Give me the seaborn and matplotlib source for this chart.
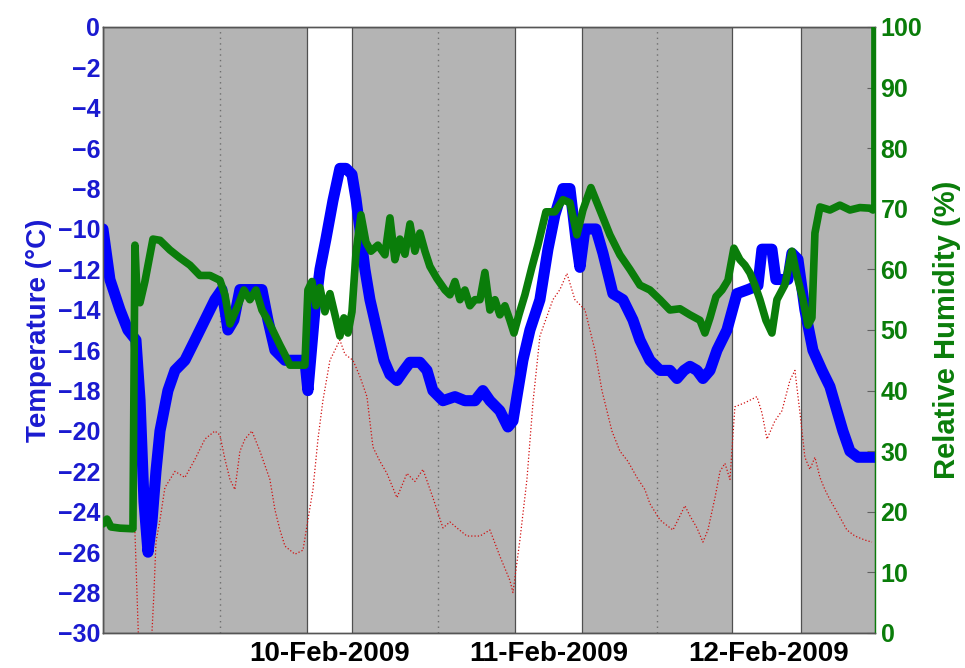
import numpy as np
import pandas as pd
import matplotlib
matplotlib.use("Agg")
import matplotlib.pyplot as plt
import seaborn as sns

sns.set_style("white")
plt.rcParams['font.family'] = ['Liberation Sans', 'DejaVu Sans']
plt.rcParams['font.weight'] = 'bold'

# hours relative to 10-Feb-2009 00:00
temp_hours = [-24.84, -24.08, -22.98, -22.11, -21.23, -20.78, -20.35, -19.91, -19.48, -19.04,
              -18.60, -17.73, -16.96, -15.87, -14.77, -13.68, -12.59, -11.82, -11.16, -10.51,
              -9.85, -8.76, -7.44, -6.79, -6.02, -4.92, -2.74, -2.41, -1.64, -1.09,
              -0.44, 0.33, 1.09, 1.75, 2.41, 2.85, 3.28, 3.83, 4.38, 5.14,
              5.91, 6.57, 7.33, 8.10, 8.76, 9.85, 10.62, 11.27, 12.37, 13.68,
              14.77, 15.87, 16.74, 17.51, 18.60, 19.48, 20.03, 20.57, 21.12, 21.89,
              22.98, 23.86, 24.62, 25.50, 26.27, 26.92, 27.36, 27.91, 29.11, 29.88,
              30.97, 32.07, 33.16, 33.93, 35.02, 36.12, 37.21, 37.98, 38.75, 39.40,
              40.17, 40.82, 41.59, 42.36, 43.45, 44.54, 45.75, 46.84, 47.28, 48.37,
              48.81, 50.12, 50.56, 51.22, 51.98, 52.86, 53.85, 54.72, 55.49, 56.14,
              56.91, 57.79, 59.65]
temperature = [-10.0, -12.5, -14.0, -15.0, -15.5, -18.5, -23.5, -26.0, -24.5, -22.0,
               -20.0, -18.0, -17.0, -16.5, -15.5, -14.5, -13.5, -13.0, -15.0, -14.5,
               -13.0, -13.0, -13.0, -14.5, -16.0, -16.5, -16.5, -18.0, -14.0, -12.0,
               -10.5, -8.6, -7.0, -7.0, -7.3, -8.5, -10.0, -12.0, -13.5, -15.0,
               -16.5, -17.2, -17.5, -17.0, -16.6, -16.6, -17.0, -18.0, -18.5, -18.3,
               -18.5, -18.5, -18.0, -18.5, -19.0, -19.8, -19.5, -18.0, -16.5, -15.0,
               -13.5, -11.0, -9.3, -8.0, -8.0, -10.5, -11.9, -10.0, -10.0, -11.2,
               -13.2, -13.5, -14.5, -15.5, -16.5, -17.0, -17.0, -17.4, -17.0, -16.8,
               -17.0, -17.4, -17.0, -16.0, -15.0, -13.2, -13.0, -12.8, -11.0, -11.0,
               -12.5, -12.5, -11.2, -11.5, -14.0, -16.0, -17.0, -17.8, -19.0, -20.0,
               -21.0, -21.3, -21.3]

rh_hours = [-24.84, -24.40, -23.97, -22.98, -21.56, -21.34, -21.12, -20.79, -20.25, -19.37,
            -18.60, -17.51, -16.42, -15.32, -14.23, -13.13, -12.04, -11.49, -10.94, -10.07,
            -9.41, -8.76, -8.10, -7.44, -6.79, -6.02, -5.47, -4.92, -4.38, -2.74,
            -2.41, -1.97, -1.53, -1.09, -0.55, 0.00, 0.55, 1.09, 1.53, 1.97,
            2.41, 2.85, 3.39, 3.94, 4.49, 5.25, 6.02, 6.57, 7.11, 7.66,
            8.21, 8.76, 9.30, 9.85, 10.40, 10.94, 11.71, 12.59, 13.13, 13.68,
            14.23, 14.77, 15.32, 15.87, 16.42, 16.96, 17.51, 18.06, 18.60, 19.15,
            19.70, 20.14, 20.68, 21.34, 22.11, 22.76, 23.64, 24.62, 25.50, 26.27,
            27.03, 27.69, 28.56, 29.55, 30.64, 31.74, 32.83, 33.93, 35.02, 36.12,
            37.21, 38.31, 39.40, 40.50, 41.04, 41.59, 42.25, 42.91, 43.56, 44.21,
            44.87, 45.42, 45.97, 46.51, 47.06, 47.72, 48.37, 48.92, 49.80, 50.56,
            51.11, 51.77, 52.31, 52.75, 53.08, 53.63, 54.72, 55.81, 56.91, 58.00,
            59.10, 59.43, 59.64, 59.65]
humidity = [18.0, 18.8, 17.5, 17.3, 17.2, 64.0, 56.0, 54.5, 58.0, 65.0,
            64.8, 63.2, 61.9, 60.7, 59.0, 59.0, 58.2, 55.8, 51.0, 54.0,
            56.6, 55.0, 56.6, 53.3, 51.6, 49.2, 47.5, 45.9, 44.2, 44.2,
            56.6, 58.0, 54.0, 57.0, 53.0, 56.0, 52.5, 49.0, 52.0, 49.5,
            53.0, 62.7, 69.0, 64.5, 63.0, 64.0, 62.4, 68.5, 61.6, 65.0,
            62.5, 67.5, 63.0, 66.0, 63.0, 60.5, 58.5, 56.6, 55.8, 58.0,
            55.0, 56.6, 54.0, 55.0, 55.0, 59.5, 53.3, 55.0, 52.5, 54.0,
            51.6, 49.5, 52.5, 55.8, 60.4, 64.0, 69.5, 69.5, 71.5, 71.0,
            65.7, 69.8, 73.5, 69.8, 65.7, 62.4, 60.0, 57.4, 56.6, 55.0,
            53.3, 53.5, 52.5, 51.6, 49.5, 52.0, 55.5, 56.6, 58.2, 63.5,
            61.6, 60.7, 59.4, 57.4, 55.0, 51.6, 49.5, 55.0, 57.5, 63.0,
            59.0, 55.0, 50.8, 52.0, 66.0, 70.3, 69.8, 70.6, 69.8, 70.2,
            70.1, 69.8, 70.0, 100.0]

red_hours = [-21.34, -21.12, -20.90, -19.59, -19.26, -19.04, -18.60, -18.06, -16.96, -15.87,
             -14.77, -13.68, -12.59, -12.04, -11.49, -10.94, -10.40, -9.85, -9.30, -8.54,
             -7.66, -6.57, -6.02, -5.47, -4.92, -3.83, -2.95, -2.41, -1.86, -1.31,
             -0.77, 0.00, 1.09, 1.64, 2.52, 3.28, 4.05, 4.71, 5.47, 6.24,
             7.33, 8.43, 9.30, 10.18, 11.27, 12.37, 13.13, 13.90, 14.99, 16.42,
             17.51, 18.60, 19.70, 20.03, 20.79, 21.56, 22.22, 22.98, 24.40, 25.17,
             25.94, 26.81, 27.91, 29.00, 29.77, 30.86, 31.74, 32.61, 33.60, 34.47,
             35.02, 35.57, 36.12, 36.66, 37.54, 38.31, 38.85, 39.40, 40.17, 40.82,
             41.37, 42.14, 42.69, 43.23, 43.78, 44.32, 45.42, 46.73, 47.28, 47.83,
             48.70, 49.47, 50.34, 50.89, 51.44, 51.98, 52.53, 53.08, 53.63, 54.17,
             54.72, 55.49, 56.58, 57.46, 58.55, 59.32]
red_temp = [-25.0, -28.0, -31.0, -31.0, -28.0, -25.5, -24.4, -22.8, -22.0, -22.3,
            -21.4, -20.4, -20.0, -20.2, -21.4, -22.4, -22.9, -21.0, -20.4, -20.0,
            -21.0, -22.4, -23.9, -24.9, -25.7, -26.1, -25.9, -24.4, -22.9, -20.4,
            -18.5, -16.5, -15.5, -16.2, -16.5, -17.3, -18.3, -20.8, -21.5, -22.1,
            -23.3, -22.1, -22.5, -21.9, -23.3, -24.8, -24.5, -24.8, -25.2, -25.2,
            -24.9, -26.2, -27.4, -28.0, -25.4, -22.4, -18.6, -15.3, -13.5, -13.0,
            -12.2, -13.5, -14.0, -16.0, -18.0, -20.0, -21.0, -21.5, -22.3, -22.9,
            -23.6, -24.0, -24.4, -24.6, -24.9, -24.2, -23.7, -24.2, -24.8, -25.5,
            -24.9, -23.3, -22.0, -21.6, -22.4, -18.8, -18.6, -18.3, -19.1, -20.4,
            -19.5, -19.0, -17.5, -17.0, -19.1, -21.3, -21.9, -21.3, -22.3, -22.9,
            -23.4, -24.0, -24.9, -25.2, -25.4, -25.5]

night_start = [-24.84, 2.41, 27.58, 51.55]
night_end = [-2.52, 20.25, 43.99, 59.65]
noon_lines = [-12.0, 11.8, 35.8]

tick_hours = [0, 24, 48]
tick_labels = ['10-Feb-2009', '11-Feb-2009', '12-Feb-2009']

BLUE = '#0000ff'
GREEN = '#0a7d0a'
LBLUE = '#1a1ad0'

fig = plt.figure(figsize=(9.65, 6.68), dpi=100)
ax = fig.add_axes([0.1067, 0.0524, 0.8, 0.9072])

for s, e in zip(night_start, night_end):
    ax.axvspan(s, e, facecolor='#b4b4b4', edgecolor='#505050', linewidth=0.9, zorder=0)
for x in noon_lines:
    ax.axvline(x, color='#6e6e6e', linestyle=(0, (1, 3)), linewidth=1.0, zorder=1)

df_t = pd.DataFrame({'hours': temp_hours, 'temp': temperature})
df_r = pd.DataFrame({'hours': red_hours, 'temp': red_temp})
df_h = pd.DataFrame({'hours': rh_hours, 'rh': humidity})

sns.lineplot(data=df_r, x='hours', y='temp', ax=ax, color='#d01010', linewidth=0.9,
             linestyle=':', estimator=None, sort=False, zorder=2)
sns.lineplot(data=df_t, x='hours', y='temp', ax=ax, color=BLUE, linewidth=8,
             estimator=None, sort=False, zorder=3)

ax.set_xlim(-24.84, 59.65)
ax.set_ylim(-30, 0)
ax.set_yticks(np.arange(-30, 1, 2))
ax.set_xticks(tick_hours)
ax.set_xticklabels(tick_labels)
ax.tick_params(axis='x', length=0, labelsize=20, pad=6, labelcolor='black')
ax.tick_params(axis='y', length=0, labelsize=18, pad=2, labelcolor=LBLUE)
for lab in ax.get_xticklabels() + ax.get_yticklabels():
    lab.set_fontweight('bold')
ax.set_xlabel('')
ax.set_ylabel('Temperature (°C)', color=LBLUE, fontsize=20, fontweight='bold', labelpad=4)

ax2 = ax.twinx()
sns.lineplot(data=df_h, x='hours', y='rh', ax=ax2, color=GREEN, linewidth=5.5,
             estimator=None, sort=False, zorder=4)
ax2.set_ylim(0, 100)
ax2.set_yticks(np.arange(0, 101, 10))
ax2.tick_params(axis='y', direction='in', length=6, width=0.8, color='#606060',
                labelsize=18, pad=4, labelcolor=GREEN)
for lab in ax2.get_yticklabels():
    lab.set_fontweight('bold')
ax2.set_ylabel('Relative Humidity (%)', color=GREEN, fontsize=21, fontweight='bold', labelpad=8)
ax2.set_xlim(-24.84, 59.65)

for a in (ax, ax2):
    for side in ('top', 'bottom', 'left'):
        a.spines[side].set_color('#555555')
        a.spines[side].set_linewidth(1.0)
ax2.spines['right'].set_color(GREEN)
ax2.spines['right'].set_linewidth(1.0)
ax.spines['right'].set_visible(False)

fig.savefig('out.png', dpi=100)
